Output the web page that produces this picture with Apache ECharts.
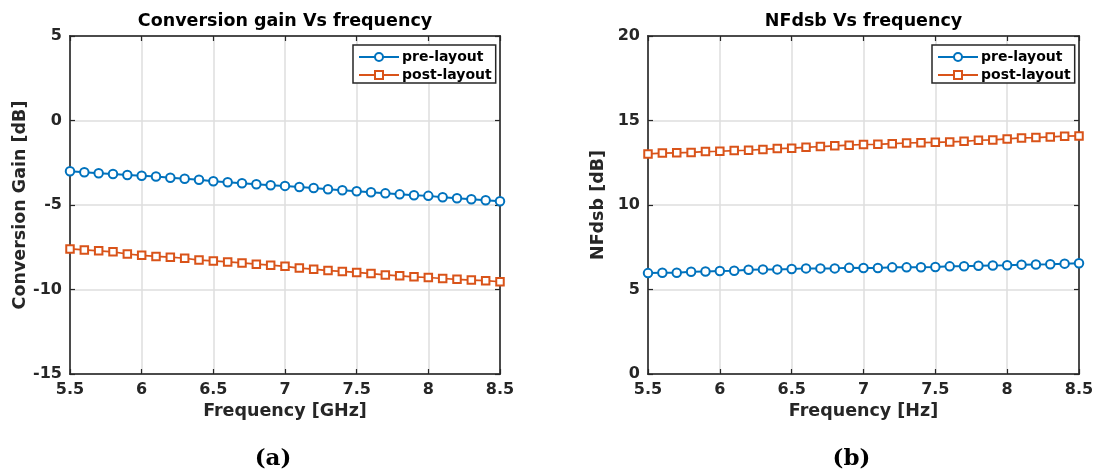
<!DOCTYPE html>
<html>
<head>
<meta charset="utf-8">
<script src="https://cdn.jsdelivr.net/npm/echarts@6/dist/echarts.min.js"></script>
<style>
  html, body { margin: 0; padding: 0; background: #fff; }
  #chart { width: 1099px; height: 471px; }
</style>
</head>
<body>
<div id="chart"></div>
<script>
// Frequency sweep points (GHz)
const freq = [5.5, 5.6, 5.7, 5.8, 5.9, 6.0, 6.1, 6.2, 6.3, 6.4, 6.5, 6.6, 6.7, 6.8, 6.9, 7.0,
              7.1, 7.2, 7.3, 7.4, 7.5, 7.6, 7.7, 7.8, 7.9, 8.0, 8.1, 8.2, 8.3, 8.4, 8.5];

// Conversion gain [dB]
const gainPre = [-3.00, -3.06, -3.12, -3.17, -3.23, -3.27, -3.31, -3.39, -3.45, -3.51, -3.59,
                 -3.65, -3.71, -3.77, -3.83, -3.87, -3.93, -3.99, -4.07, -4.13, -4.19, -4.25,
                 -4.31, -4.37, -4.42, -4.46, -4.54, -4.60, -4.66, -4.72, -4.78];
const gainPost = [-7.60, -7.66, -7.71, -7.77, -7.90, -7.98, -8.04, -8.09, -8.15, -8.26, -8.31,
                  -8.37, -8.43, -8.50, -8.56, -8.63, -8.73, -8.80, -8.88, -8.93, -8.99, -9.06,
                  -9.14, -9.19, -9.25, -9.29, -9.35, -9.40, -9.44, -9.48, -9.54];

// Double-sideband noise figure [dB]
const nfPre = [5.97, 5.99, 5.99, 6.05, 6.07, 6.09, 6.11, 6.17, 6.19, 6.19, 6.21, 6.25, 6.25,
               6.25, 6.28, 6.27, 6.27, 6.31, 6.31, 6.32, 6.33, 6.37, 6.38, 6.41, 6.42, 6.43,
               6.47, 6.48, 6.49, 6.53, 6.55];
const nfPost = [13.02, 13.07, 13.09, 13.11, 13.16, 13.18, 13.22, 13.24, 13.29, 13.34, 13.36,
                13.41, 13.46, 13.50, 13.54, 13.58, 13.59, 13.63, 13.67, 13.69, 13.71, 13.73,
                13.77, 13.83, 13.85, 13.91, 13.97, 13.99, 14.03, 14.07, 14.09];

const seriesNames = ['pre-layout', 'post-layout'];
const panelTitles = ['Conversion gain Vs frequency', 'NFdsb Vs frequency'];
const xNames = ['Frequency [GHz]', 'Frequency [Hz]'];
const yNames = ['Conversion Gain [dB]', 'NFdsb [dB]'];
const yRanges = [[-15, 5], [0, 20]];
const captions = ['(a)', '(b)'];

const BLUE = '#0072BD';
const ORANGE = '#D95319';
const INK = '#262626';
const FONT = 'DejaVu Sans';

const panels = [
  { left: 70, right: 1099 - 500, legendLeft: 353 },
  { left: 648, right: 1099 - 1079, legendLeft: 932 }
];

const grids = [], xAxes = [], yAxes = [], titles = [], legends = [], series = [], graphics = [];

panels.forEach((p, i) => {
  const centerX = p.left + (1099 - p.right - p.left) / 2;
  grids.push({ left: p.left, right: p.right, top: 36, height: 338,
               show: true, borderColor: INK, borderWidth: 1.5, backgroundColor: '#fff' });

  titles.push({ text: panelTitles[i], left: centerX, top: 12, textAlign: 'center', padding: 0,
                textStyle: { fontFamily: FONT, fontWeight: 'bold', fontSize: 17.5, color: '#000' } });

  // bottom x axis with labels
  xAxes.push({
    gridIndex: i, type: 'value', min: 5.5, max: 8.5, interval: 0.5, position: 'bottom',
    name: xNames[i], nameLocation: 'middle', nameGap: 28,
    nameTextStyle: { fontFamily: FONT, fontWeight: 'bold', fontSize: 17.5, color: INK },
    axisLine: { show: true, onZero: false, lineStyle: { color: INK, width: 1.5 } },
    axisTick: { show: true, inside: true, length: 5, lineStyle: { color: INK, width: 1.2 } },
    axisLabel: { margin: 8, fontFamily: FONT, fontWeight: 'bold', fontSize: 16, color: INK,
                 formatter: v => String(v) },
    splitLine: { show: true, lineStyle: { color: '#dedede', width: 1.5 } }
  });
  // top x axis: ticks only
  xAxes.push({
    gridIndex: i, type: 'value', min: 5.5, max: 8.5, interval: 0.5, position: 'top',
    axisLine: { show: true, onZero: false, lineStyle: { color: INK, width: 1.5 } },
    axisTick: { show: true, inside: true, length: 5, lineStyle: { color: INK, width: 1.2 } },
    axisLabel: { show: false }, splitLine: { show: false }
  });

  yAxes.push({
    gridIndex: i, type: 'value', min: yRanges[i][0], max: yRanges[i][1], interval: 5,
    position: 'left',
    name: yNames[i], nameLocation: 'middle', nameGap: 41, nameRotate: 90,
    nameTextStyle: { fontFamily: FONT, fontWeight: 'bold', fontSize: 17.5, color: INK },
    axisLine: { show: true, onZero: false, lineStyle: { color: INK, width: 1.5 } },
    axisTick: { show: true, inside: true, length: 5, lineStyle: { color: INK, width: 1.2 } },
    axisLabel: { margin: 8, fontFamily: FONT, fontWeight: 'bold', fontSize: 16, color: INK },
    splitLine: { show: true, lineStyle: { color: '#dedede', width: 1.5 } }
  });
  yAxes.push({
    gridIndex: i, type: 'value', min: yRanges[i][0], max: yRanges[i][1], interval: 5,
    position: 'right',
    axisLine: { show: true, onZero: false, lineStyle: { color: INK, width: 1.5 } },
    axisTick: { show: true, inside: true, length: 5, lineStyle: { color: INK, width: 1.2 } },
    axisLabel: { show: false }, splitLine: { show: false }
  });

  legends.push({
    orient: 'vertical', left: p.legendLeft, top: 45,
    data: seriesNames, itemWidth: 40, itemHeight: 10, itemGap: 4,
    padding: [5, 4, 1, 5], borderColor: INK, borderWidth: 1.5, backgroundColor: '#fff',
    selectedMode: false,
    textStyle: { fontFamily: FONT, fontWeight: 'bold', fontSize: 14, color: '#000', padding: [0, 0, 0, -2] }
  });

  graphics.push({
    type: 'text', x: centerX - 12, y: 459,
    style: { text: captions[i], font: 'bold 23px "DejaVu Serif"', fill: '#000',
             textAlign: 'center', textVerticalAlign: 'middle' }
  });
});

const panelData = [[gainPre, gainPost], [nfPre, nfPost]];
panelData.forEach((pair, i) => {
  pair.forEach((vals, k) => {
    series.push({
      name: seriesNames[k], type: 'line',
      xAxisIndex: i * 2, yAxisIndex: i * 2,
      data: freq.map((f, j) => [f, vals[j]]),
      symbol: k === 0 ? 'emptyCircle' : 'emptyRect',
      symbolSize: k === 0 ? 8.5 : 7.5,
      color: k === 0 ? BLUE : ORANGE,
      lineStyle: { width: k === 0 ? 2 : 1.7, color: k === 0 ? BLUE : ORANGE },
      itemStyle: { borderWidth: 1.6, color: k === 0 ? BLUE : ORANGE },
      z: 3
    });
  });
});

const chart = echarts.init(document.getElementById('chart'), null, { renderer: 'canvas' });
chart.setOption({
  animation: false,
  backgroundColor: '#fff',
  title: titles,
  legend: legends,
  grid: grids,
  xAxis: xAxes,
  yAxis: yAxes,
  series: series,
  graphic: graphics
});
</script>
</body>
</html>
